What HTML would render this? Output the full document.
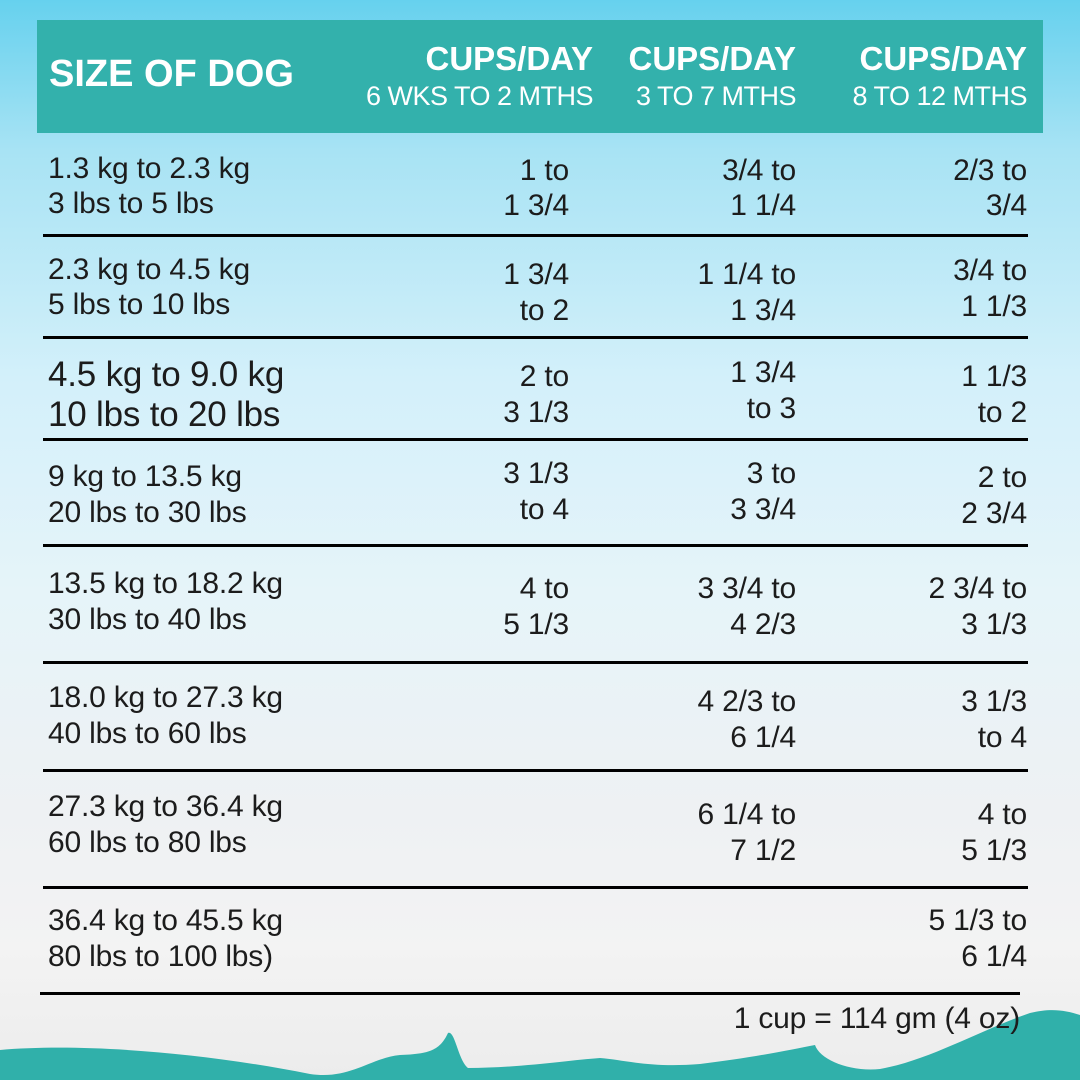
<!DOCTYPE html>
<html><head><meta charset="utf-8"><style>
*{margin:0;padding:0;box-sizing:border-box}
body{width:1080px;height:1080px;overflow:hidden;position:relative;font-family:"Liberation Sans",sans-serif;
background:linear-gradient(180deg,#66d1ee 0%,#a8e3f4 14%,#d3f0fa 35%,#e6f4f9 55%,#eef1f3 75%,#f3f3f3 88%,#ececec 100%);}
.hdr{position:absolute;left:37px;top:20px;width:1006px;height:113px;background:#33b1ac;color:#fff}
.t{position:absolute;white-space:nowrap;color:#1c1c1c;letter-spacing:-0.2px}
.r{text-align:right}
.line{position:absolute;height:3px;background:#000}
.h1{position:absolute;font-weight:bold;font-size:38px;letter-spacing:0px}
.h2{position:absolute;font-weight:bold;font-size:33px;text-align:right}
.h3{position:absolute;font-size:27px;text-align:right;letter-spacing:-0.5px}
</style></head><body>
<div class="hdr">
<div class="h1" style="left:12px;top:33px">SIZE OF DOG</div>
<div class="h2" style="right:450px;top:20px">CUPS/DAY</div>
<div class="h3" style="right:450px;top:61px">6 WKS TO 2 MTHS</div>
<div class="h2" style="right:247px;top:20px">CUPS/DAY</div>
<div class="h3" style="right:247px;top:61px">3 TO 7 MTHS</div>
<div class="h2" style="right:16px;top:20px">CUPS/DAY</div>
<div class="h3" style="right:16px;top:61px">8 TO 12 MTHS</div>
</div>

<div class="t" style="left:48px;top:151px;font-size:30px;line-height:35px">1.3 kg to 2.3 kg<br>3 lbs to 5 lbs</div>
<div class="t r" style="right:511px;top:153px;font-size:30px;line-height:35px">1 to<br>1 3/4</div>
<div class="t r" style="right:284px;top:153px;font-size:30px;line-height:35px">3/4 to<br>1 1/4</div>
<div class="t r" style="right:53px;top:153px;font-size:30px;line-height:35px">2/3 to<br>3/4</div>
<div class="line" style="left:43px;width:985px;top:234px"></div>

<div class="t" style="left:48px;top:252px;font-size:30px;line-height:35px">2.3 kg to 4.5 kg<br>5 lbs to 10 lbs</div>
<div class="t r" style="right:511px;top:257px;font-size:30px;line-height:36px">1 3/4<br>to 2</div>
<div class="t r" style="right:284px;top:257px;font-size:30px;line-height:36px">1 1/4 to<br>1 3/4</div>
<div class="t r" style="right:53px;top:253px;font-size:30px;line-height:36px">3/4 to<br>1 1/3</div>
<div class="line" style="left:43px;width:985px;top:336px"></div>

<div class="t" style="left:48px;top:355px;font-size:35px;line-height:40px">4.5 kg to 9.0 kg<br>10 lbs to 20 lbs</div>
<div class="t r" style="right:511px;top:359px;font-size:30px;line-height:36px">2 to<br>3 1/3</div>
<div class="t r" style="right:284px;top:355px;font-size:30px;line-height:36px">1 3/4<br>to 3</div>
<div class="t r" style="right:53px;top:359px;font-size:30px;line-height:36px">1 1/3<br>to 2</div>
<div class="line" style="left:43px;width:985px;top:438px"></div>

<div class="t" style="left:48px;top:459px;font-size:30px;line-height:36px">9 kg to 13.5 kg<br>20 lbs to 30 lbs</div>
<div class="t r" style="right:511px;top:456px;font-size:30px;line-height:36px">3 1/3<br>to 4</div>
<div class="t r" style="right:284px;top:456px;font-size:30px;line-height:36px">3 to<br>3 3/4</div>
<div class="t r" style="right:53px;top:460px;font-size:30px;line-height:36px">2 to<br>2 3/4</div>
<div class="line" style="left:43px;width:985px;top:544px"></div>

<div class="t" style="left:48px;top:566px;font-size:30px;line-height:36px">13.5 kg to 18.2 kg<br>30 lbs to 40 lbs</div>
<div class="t r" style="right:511px;top:571px;font-size:30px;line-height:36px">4 to<br>5 1/3</div>
<div class="t r" style="right:284px;top:571px;font-size:30px;line-height:36px">3 3/4 to<br>4 2/3</div>
<div class="t r" style="right:53px;top:571px;font-size:30px;line-height:36px">2 3/4 to<br>3 1/3</div>
<div class="line" style="left:43px;width:985px;top:661px"></div>

<div class="t" style="left:48px;top:680px;font-size:30px;line-height:36px">18.0 kg to 27.3 kg<br>40 lbs to 60 lbs</div>
<div class="t r" style="right:284px;top:684px;font-size:30px;line-height:36px">4 2/3 to<br>6 1/4</div>
<div class="t r" style="right:53px;top:684px;font-size:30px;line-height:36px">3 1/3<br>to 4</div>
<div class="line" style="left:43px;width:985px;top:769px"></div>

<div class="t" style="left:48px;top:789px;font-size:30px;line-height:36px">27.3 kg to 36.4 kg<br>60 lbs to 80 lbs</div>
<div class="t r" style="right:284px;top:797px;font-size:30px;line-height:36px">6 1/4 to<br>7 1/2</div>
<div class="t r" style="right:53px;top:797px;font-size:30px;line-height:36px">4 to<br>5 1/3</div>
<div class="line" style="left:43px;width:985px;top:886px"></div>

<div class="t" style="left:48px;top:903px;font-size:30px;line-height:36px">36.4 kg to 45.5 kg<br>80 lbs to 100 lbs)</div>
<div class="t r" style="right:53px;top:903px;font-size:30px;line-height:36px">5 1/3 to<br>6 1/4</div>
<div class="line" style="left:40px;width:980px;top:992px"></div>

<svg style="position:absolute;left:0;top:0" width="1080" height="1080">
<path d="M0 1050 C80 1043 200 1052 310 1074 C350 1080 370 1058 400 1055 C430 1054 440 1050 448 1033 C455 1030 458 1060 468 1068 C520 1068 570 1060 600 1058 C625 1060 650 1068 700 1064 C750 1058 790 1050 815 1045 C820 1060 850 1072 880 1069 C930 1060 980 1030 1030 1013 C1050 1008 1065 1010 1080 1015 L1080 1080 L0 1080 Z" fill="#30b0aa"/>
</svg>
<div class="t r" style="right:60px;top:1001px;font-size:30px;line-height:36px">1 cup = 114 gm (4 oz)</div>
</body></html>
